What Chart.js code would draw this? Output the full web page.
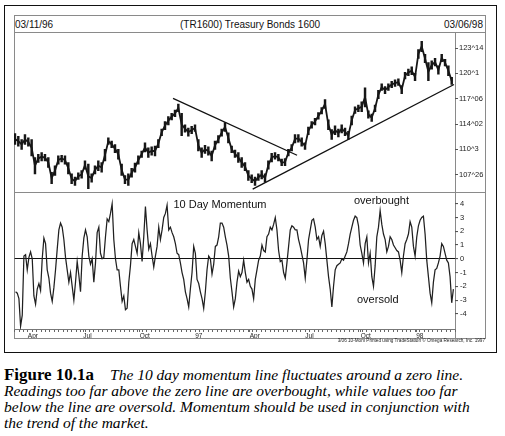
<!DOCTYPE html>
<html>
<head>
<meta charset="utf-8">
<script src="https://cdn.jsdelivr.net/npm/chart.js@4.4.1/dist/chart.umd.min.js"></script>
<style>
  body { margin: 0; background: #fff; width: 505px; height: 436px; overflow: hidden; position: relative;
         font-family: "Liberation Sans", Arial, sans-serif; color: #111; }
  .abs { position: absolute; box-sizing: border-box; }
  .hline { position: absolute; height: 1px; background: #8a8a8a; }
  .vline { position: absolute; width: 1px; background: #8a8a8a; }
  .head { position: absolute; top: 19px; font-size: 10px; line-height: 12px; white-space: nowrap; }
  .note { position: absolute; font-size: 11px; line-height: 13px; white-space: nowrap; }
  .cap { position: absolute; left: 4px; line-height: 16px; white-space: nowrap; font-family: "Liberation Serif", "Times New Roman", serif; color: #000; }
  .cap.it { font-style: italic; }
  .cap b { font-weight: bold; }
</style>
</head>
<body>

<div class="abs" style="left:4px;top:5px;width:493px;height:348px;border:1.6px solid #111"></div>
<div class="abs" style="left:13.5px;top:14.5px;width:472px;height:324px;border:1px solid #8a8a8a"></div>
<div class="hline" style="left:14px;top:32px;width:471px"></div>
<div class="hline" style="left:14px;top:192px;width:471px"></div>
<div class="vline" style="left:455px;top:33px;height:305px"></div>

<div class="head" style="left:15px">03/11/96</div>
<div class="head" style="left:180px;width:140px;text-align:center">(TR1600) Treasury Bonds 1600</div>
<div class="head" style="right:22px">03/06/98</div>

<div class="abs" style="left:14px;top:33px;width:471px;height:159px"><canvas id="priceChart"></canvas></div>
<div class="abs" style="left:14px;top:192.5px;width:471px;height:145.5px"><canvas id="momChart"></canvas></div>

<div class="note" style="left:173.5px;top:198px">10 Day Momentum</div>
<div class="note" style="left:354px;top:194px">overbought</div>
<div class="note" style="left:357px;top:293px">oversold</div>

<div class="abs" style="right:20px;top:336px;font-size:8px;line-height:9px;white-space:nowrap;transform:scale(0.58);transform-origin:right center;color:#222">3/06 10-Mom Printed using TradeStation © Omega Research, Inc. 1997</div>

<div class="cap" id="capFig" style="top:367px"><b>Figure 10.1a</b></div>
<div class="cap it" id="cap1" style="top:367px;left:110px">The 10 day momentum line fluctuates around a zero line.</div>
<div class="cap it" id="cap2" style="top:383px">Readings too far above the zero line are overbought, while values too far</div>
<div class="cap it" id="cap3" style="top:399px">below the line are oversold. Momentum should be used in conjunction with</div>
<div class="cap it" id="cap4" style="top:414.5px">the trend of the market.</div>

<script>
// trading days from 03/11/96 to 03/06/98
const DAYS = 500;

// price bars, sampled every few days (high / low of each sample)
const priceStart = 1.1;
const priceStep = 3.78;
const priceHigh = [
  112.90,112.58,112.18,112.78,112.38,112.18,109.96,110.36,110.56,110.36,
  109.96,108.14,108.95,110.16,110.24,110.16,109.35,107.94,107.54,108.06,
  108.34,109.55,109.15,107.94,108.95,109.55,109.35,110.97,112.38,111.98,
  111.57,110.97,109.15,107.74,107.94,108.63,109.27,110.16,110.76,111.77,
  111.17,111.29,111.37,112.18,113.47,114.40,115.00,115.41,115.81,116.54,
  115.41,113.99,113.59,113.79,113.99,112.18,111.17,111.45,111.29,110.76,
  111.98,112.66,113.47,114.28,112.99,111.37,110.89,110.56,
  109.96,109.35,108.34,107.82,107.54,107.94,108.34,107.94,109.55,110.48,
  110.56,110.36,109.76,109.84,110.97,111.57,112.78,112.78,112.38,111.77,
  113.71,114.40,114.80,115.49,116.13,117.10,114.60,113.39,113.87,113.47,
  113.99,113.59,113.19,115.08,116.21,116.42,116.82,118.56,115.73,115.33,
  116.42,118.23,119.04,118.72,119.04,119.36,119.53,119.65,118.84,120.45,
  120.86,121.14,120.33,123.28,124.29,122.67,121.66,121.87,122.19,121.26,
  122.67,122.07,121.26,119.85
];
const priceLow = [
  111.57,111.37,110.97,111.57,111.37,110.16,107.94,109.35,109.55,109.55,
  108.75,106.73,107.74,109.15,109.43,109.15,107.94,106.73,106.53,107.25,
  107.41,108.54,106.12,106.93,107.94,108.34,108.14,109.55,111.57,111.17,
  110.56,109.76,107.74,106.73,106.53,107.54,108.14,109.15,109.96,110.64,
  109.96,110.24,110.16,111.17,112.66,113.39,113.99,114.60,115.00,115.61,
  112.66,113.07,112.58,112.90,113.19,110.76,109.96,110.48,110.24,109.55,
  110.97,111.77,112.58,113.19,111.77,110.56,109.96,109.35,
  108.75,108.34,107.13,106.85,106.53,107.13,107.33,106.93,108.54,109.43,
  109.76,109.55,108.95,108.95,110.16,110.76,111.77,111.85,111.37,110.97,
  112.78,113.59,113.99,114.68,115.33,116.01,113.39,112.18,112.78,112.50,
  112.99,112.66,112.18,113.99,115.41,115.61,115.61,116.21,114.80,114.40,
  115.61,117.22,118.23,117.83,118.23,118.56,118.72,118.84,117.83,119.65,
  120.05,120.17,119.44,122.19,123.00,121.66,119.44,120.86,121.26,120.25,
  121.79,121.26,120.05,118.96
];
const priceTicks = [107.8125, 110.96875, 114.0625, 117.1875, 120.34375, 123.4375];
const priceTickLabels = ["107^26", "110^3", "114^02", "117^06", "120^1", "123^14"];

// trend lines: [day, price] end points
const trendDown = [[180.3, 117.26], [320.9, 110.24]];
const trendUp = [[270.6, 106.06], [498.9, 118.96]];

// 10 day momentum
const momStart = 1.1;
const momStep = 1.89;
const momentum = [
  -2.4,-2.5,-2.9,-4.9,-4.1,0.2,0.3,-0.8,0.1,0.5,
  0.0,-2.7,-3.3,-2.2,-1.8,-2.3,0.0,1.5,1.1,-0.8,
  -1.4,-2.5,-3.1,-2.1,-0.8,0.7,2.1,2.6,2.3,1.4,
  0.1,-0.8,-1.7,-1.0,-2.0,-3.0,-1.7,-0.2,-1.2,-2.4,
  0.2,1.5,2.1,1.6,0.2,-0.4,0.0,-1.7,-0.3,1.9,
  2.3,0.4,0.0,0.1,1.6,2.9,2.7,3.3,4.0,1.4,
  0.0,-0.8,-0.8,-2.0,-3.1,-2.7,-3.7,-3.6,-1.7,-0.5,
  1.1,1.4,0.9,0.4,1.9,1.1,-0.2,1.6,3.8,2.1,
  0.7,1.1,0.2,-0.6,0.2,0.9,2.3,1.4,2.1,3.0,
  3.3,3.9,2.1,2.3,1.9,1.6,1.1,0.4,0.3,-0.3,
  -1.0,-1.5,-2.4,-2.9,-3.5,-2.2,-1.0,0.9,0.4,-1.5,
  -1.8,-2.4,-2.9,-3.6,-2.4,-0.8,0.2,0.0,-1.1,-0.4,
  0.9,1.0,1.6,2.6,2.6,2.3,1.6,1.0,0.2,-1.4,
  -2.4,-3.5,-2.9,-1.7,-0.9,
  -1.3,-1.0,-0.1,-1.0,-1.7,-1.5,-2.0,-2.2,-2.9,-1.5,
  -0.8,-0.1,0.2,1.0,0.6,0.5,1.6,1.8,2.3,2.1,
  2.5,3.0,2.1,0.6,-0.2,-0.1,-1.0,-1.4,-0.3,0.9,
  2.1,2.4,2.3,2.1,2.1,1.4,0.9,0.3,-0.3,-1.4,
  -0.1,1.4,2.1,2.8,2.9,2.3,1.4,1.6,0.9,1.7,
  2.0,1.1,-0.1,-1.3,-2.2,-3.5,-2.0,-0.8,-0.5,-0.4,
  -0.3,0.0,-0.1,0.2,0.5,1.1,1.8,2.3,2.8,3.1,
  3.0,2.4,1.0,0.4,-0.3,1.1,1.6,-0.3,0.4,-1.3,
  -2.0,-0.5,1.6,2.3,3.5,2.5,1.8,1.4,0.5,0.9,
  1.6,1.4,1.0,0.8,0.6,0.5,-0.1,-1.0,0.2,1.1,
  1.4,1.8,2.7,2.3,0.9,0.2,1.6,2.4,2.8,3.0,
  3.1,1.8,-0.1,-1.3,-2.5,-3.2,-1.7,-0.8,-0.7,-0.3,
  0.2,1.1,0.9,0.4,-0.1,-0.3,-1.3,-3.2,-2.2
];
const momTicks = [-4, -3, -2, -1, 0, 1, 2, 3, 4];
const monthDays = [15, 78, 142, 205, 267, 330, 393, 456];
const monthLabels = ["Apr", "Jul", "Oct", "97", "Apr", "Jul", "Oct", "98"];

// tiny lineHeight so the axis does not pad the plot area for its end labels
const axisFont = { family: "Liberation Sans", size: 7.5, lineHeight: 0.1 };

// price panel
const priceX = priceHigh.map((h, i) => priceStart + i * priceStep);
const priceBars = priceHigh.map((h, i) => ({ x: priceX[i], y: [priceLow[i], h] }));
const priceMid = priceHigh.map((h, i) => ({ x: priceX[i], y: (h + priceLow[i]) / 2 }));

new Chart(document.getElementById("priceChart"), {
  type: "bar",
  data: {
    datasets: [
      {
        type: "line",
        data: trendDown.map((p) => ({ x: p[0], y: p[1] })),
        borderColor: "#111",
        borderWidth: 1.3,
        pointRadius: 0,
      },
      {
        type: "line",
        data: trendUp.map((p) => ({ x: p[0], y: p[1] })),
        borderColor: "#111",
        borderWidth: 1.3,
        pointRadius: 0,
      },
      {
        type: "line",
        data: priceMid,
        borderColor: "#161616",
        borderWidth: 1.8,
        pointRadius: 0,
        tension: 0,
      },
      {
        type: "bar",
        data: priceBars,
        backgroundColor: "#161616",
        borderWidth: 0,
        barThickness: 1.8,
        grouped: false,
      },
    ],
  },
  options: {
    responsive: true,
    maintainAspectRatio: false,
    animation: false,
    layout: { padding: 0 },
    plugins: { legend: { display: false }, tooltip: { enabled: false } },
    scales: {
      x: { type: "linear", min: 0, max: DAYS, offset: false, display: false },
      y: {
        position: "right",
        min: 105.88,
        max: 125.14,
        afterBuildTicks: (s) => { s.ticks = priceTicks.map((v) => ({ value: v })); },
        afterFit: (s) => { s.width = 30; },
        border: { display: false },
        grid: { drawOnChartArea: false, tickLength: 3, color: "#555" },
        ticks: { callback: (v, i) => priceTickLabels[i], font: axisFont, color: "#222", padding: 1 },
      },
    },
  },
});

// momentum panel
const weekTicks = [];
for (let d = 0; d <= DAYS; d += 5) weekTicks.push(d);
const xTicks = [...new Set(weekTicks.concat(monthDays))].sort((a, b) => a - b);

new Chart(document.getElementById("momChart"), {
  type: "line",
  data: {
    datasets: [
      {
        data: momentum.map((v, i) => ({ x: momStart + i * momStep, y: v })),
        borderColor: "#202020",
        borderWidth: 1.25,
        pointRadius: 0,
        tension: 0,
      },
    ],
  },
  options: {
    responsive: true,
    maintainAspectRatio: false,
    animation: false,
    layout: { padding: 0 },
    plugins: { legend: { display: false }, tooltip: { enabled: false } },
    scales: {
      x: {
        type: "linear",
        min: 0,
        max: DAYS,
        offset: false,
        afterBuildTicks: (s) => { s.ticks = xTicks.map((v) => ({ value: v })); },
        afterFit: (s) => { s.height = 9; s.paddingLeft = 0; s.paddingRight = 0; },
        border: { color: "#777" },
        grid: { drawOnChartArea: false, tickLength: 2.5, color: "#666" },
        ticks: {
          autoSkip: false,
          maxRotation: 0,
          align: "start",
          padding: 0,
          font: { family: "Liberation Sans", size: 6.5 },
          color: "#222",
          callback: (v) => {
            const k = monthDays.indexOf(v);
            return k >= 0 ? monthLabels[k] : "";
          },
        },
      },
      y: {
        position: "right",
        min: -5.14,
        max: 4.61,
        afterBuildTicks: (s) => { s.ticks = momTicks.map((v) => ({ value: v })); },
        afterFit: (s) => { s.width = 30; },
        border: { display: false },
        grid: {
          tickLength: 3,
          tickColor: "#555",
          color: (c) => (c.tick && c.tick.value === 0 ? "#111" : "rgba(0,0,0,0)"),
          lineWidth: 1.1,
        },
        ticks: { font: axisFont, color: "#222", padding: 2, callback: (v) => String(v) },
      },
    },
  },
});

// size the caption text to the printed line widths
function fitWidth(id, target) {
  const el = document.getElementById(id);
  el.style.fontSize = "100px";
  const w = el.getBoundingClientRect().width;
  el.style.fontSize = (100 * target / w).toFixed(2) + "px";
}
fitWidth("capFig", 90);
const probe = document.getElementById("cap2");
probe.style.fontSize = "100px";
const capSize = (100 * 454 / probe.getBoundingClientRect().width).toFixed(2) + "px";
["cap1", "cap2", "cap3", "cap4"].forEach((id) => { document.getElementById(id).style.fontSize = capSize; });
</script>
</body>
</html>
